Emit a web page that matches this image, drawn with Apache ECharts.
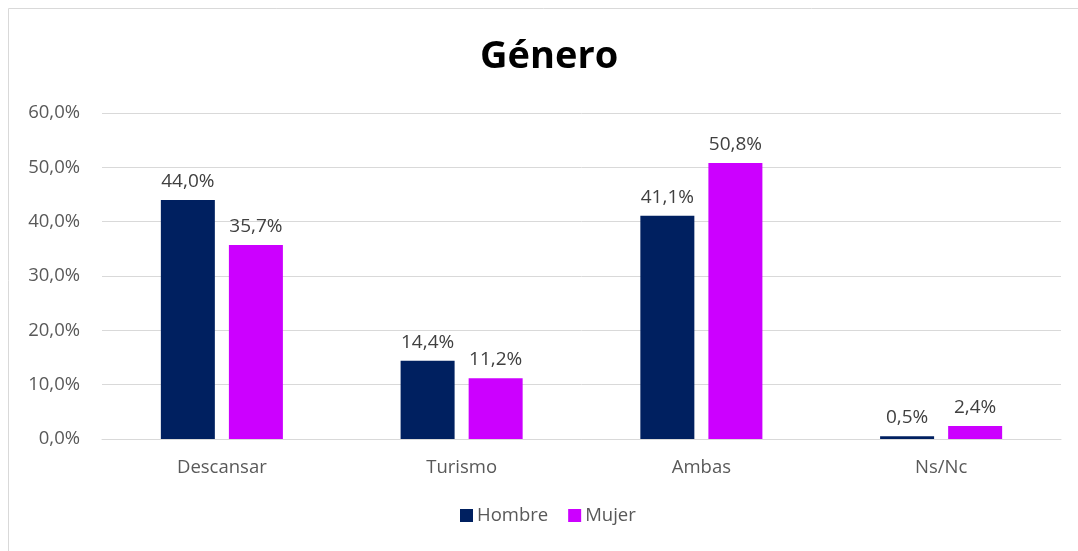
<!DOCTYPE HTML>
<html>
	<head>
		<meta charset="utf-8">
		<title>Género</title>
		<style type="text/css">
			html, body { margin: 0; padding: 0; background: #fff; }
			#main { width: 1078px; height: 551px; }
		</style>
	</head>
	<body>
		<div id="main"></div>
	</body>
	<script type="text/javascript" src="https://cdn.jsdelivr.net/npm/echarts@6/dist/echarts.min.js"></script>
	<script type="text/javascript">
		var categories = ['Descansar', 'Turismo', 'Ambas', 'Ns/Nc'];
		var hombre = [44.0, 14.4, 41.1, 0.5];
		var mujer = [35.7, 11.2, 50.8, 2.4];

		function pct(v) {
			return v.toFixed(1).replace('.', ',') + '%';
		}

		var font = '"Open Sans", "Noto Sans", sans-serif';

		option = {
			animation : false,
			textStyle : { fontFamily : font },
			title : {
				text : 'Género',
				left : 475,
				top : 33,
				textStyle : { fontSize : 38, fontWeight : 'bold', color : '#000', fontFamily : font }
			},
			legend : {
				data : ['Hombre', 'Mujer'],
				bottom : 21,
				left : 455,
				icon : 'rect',
				itemWidth : 13,
				itemHeight : 13,
				itemGap : 20,
				textStyle : { fontSize : 18.5, color : '#595959', padding : [0, 0, 0, -1] }
			},
			graphic : [{
				type : 'rect',
				shape : { x : 8.5, y : 8.5, width : 1080, height : 560 },
				style : { fill : 'none', stroke : '#d9d9d9', lineWidth : 1 },
				silent : true
			}],
			grid : {
				left : 102,
				right : 17,
				top : 113,
				bottom : 112
			},
			xAxis : {
				type : 'category',
				data : categories,
				axisLine : { lineStyle : { color : '#d9d9d9' } },
				axisTick : { show : false },
				axisLabel : { fontSize : 18.5, color : '#595959', margin : 19 }
			},
			yAxis : {
				type : 'value',
				min : 0,
				max : 60,
				interval : 10,
				axisLine : { show : false },
				axisTick : { show : false },
				splitLine : { lineStyle : { color : '#d9d9d9' } },
				axisLabel : {
					fontSize : 18.5,
					color : '#595959',
					margin : 22,
					formatter : function(v) { return pct(v); }
				}
			},
			series : [{
				name : 'Hombre',
				type : 'bar',
				data : hombre,
				barWidth : 54,
				barGap : '26%',
				itemStyle : { color : '#002060' },
				label : {
					show : true,
					position : 'top',
					distance : 9,
					fontSize : 19,
					color : '#404040',
					formatter : function(p) { return pct(p.value); }
				}
			}, {
				name : 'Mujer',
				type : 'bar',
				data : mujer,
				barWidth : 54,
				itemStyle : { color : '#cc00ff' },
				label : {
					show : true,
					position : 'top',
					distance : 9,
					fontSize : 19,
					color : '#404040',
					formatter : function(p) { return pct(p.value); }
				}
			}]
		};

		var myChart = echarts.init(document.getElementById('main'));
		myChart.setOption(option);
	</script>
</html>
